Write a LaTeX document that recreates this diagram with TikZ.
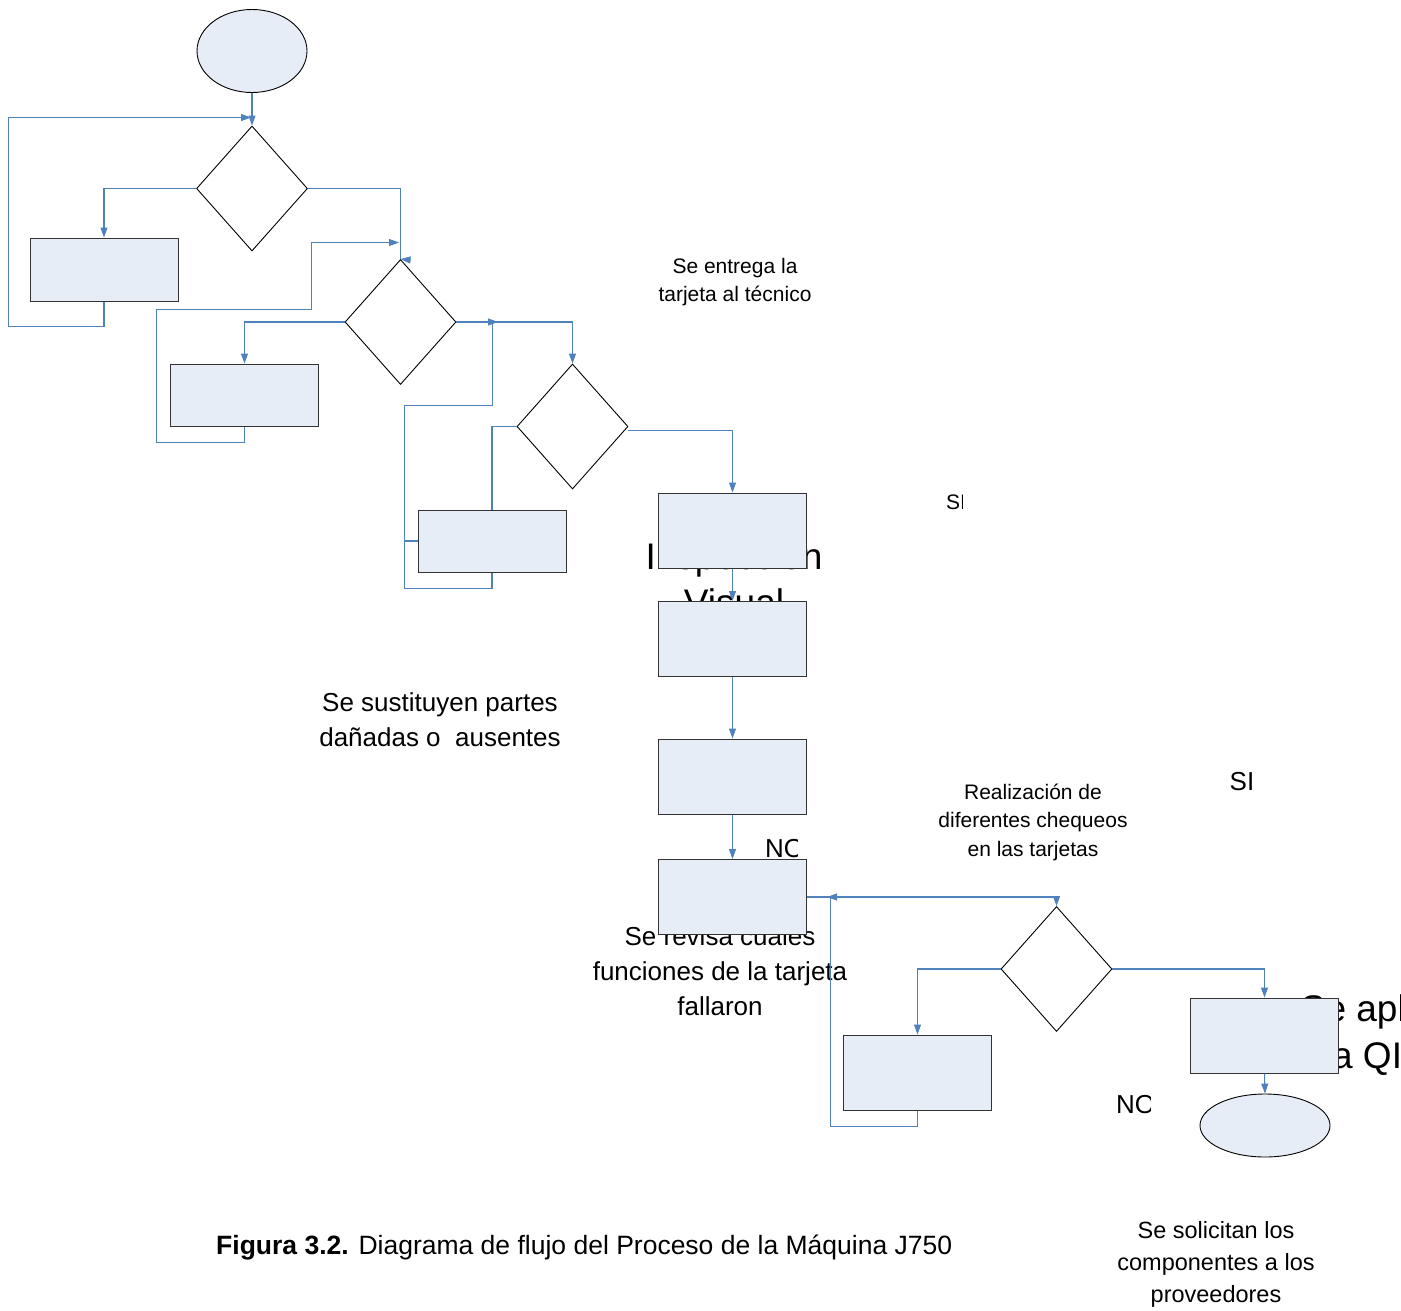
\documentclass[tikz,border=0pt]{standalone}
\usepackage{fontspec}
\setmainfont{Liberation Sans}
\usetikzlibrary{shapes.geometric,arrows.meta}
\definecolor{lnblue}{HTML}{4F81BD}
\definecolor{boxfill}{HTML}{E7EDF7}
\tikzset{
  box/.style={rectangle,draw=black!80,fill=boxfill,line width=1pt,minimum width=148pt,minimum height=75pt,inner sep=0pt},
  dec/.style={diamond,draw=black,line width=0.9pt,minimum width=111pt,minimum height=125pt,inner sep=0pt},
  oval/.style={ellipse,draw=black,fill=boxfill,line width=0.9pt,inner sep=0pt},
  conn/.style={draw=lnblue,line width=1.05pt,-{Triangle[length=10pt,width=7pt]}},
  plain/.style={draw=lnblue,line width=1.05pt},
  lbl/.style={align=center,inner sep=0pt,font=\fontsize{26}{35}\selectfont},
  lblb/.style={align=center,inner sep=0pt,font=\fontsize{23.5}{32}\selectfont},
  small/.style={align=center,inner sep=0pt,font=\fontsize{21}{28.5}\selectfont},
  big/.style={align=center,inner sep=0pt,font=\fontsize{37}{46.5}\selectfont},
}
\begin{document}
\begin{tikzpicture}[x=1pt,y=-1pt]
\useasboundingbox (0,0) rectangle (1401,1310);
% texts lying behind boxes
\node[big] (insp) at (734,579) {Inspección\\Visual};
\node[lbl] (revisa) at (720,971) {Se revisa cuales\\funciones de la tarjeta\\fallaron};
\node[big] (qi) at (1377,1035) {Se aplica\\la QI\hspace*{28pt}};
% shapes
\node[oval,minimum width=110pt,minimum height=83pt] (start) at (252,51) {};
\node[dec] (d1) at (252,188.5) {};
\node[box,minimum height=63pt] (b1) at (104,269.5) {};
\node[dec] (d2) at (400.5,322) {};
\node[box,minimum height=62pt] (b2) at (244.5,395) {};
\node[dec] (d3) at (572.5,426.5) {};
\node[box,minimum height=62pt] (b3) at (492,541) {};
\node[box] (b4) at (732.5,530.5) {};
\node[box] (b5) at (732.5,639) {};
\node[box] (b6) at (732.5,776.5) {};
\node[box] (b7) at (732.5,897) {};
\node[dec] (d4) at (1056.5,969) {};
\node[box] (b8) at (917.5,1072.5) {};
\node[box] (b9) at (1264.5,1035.5) {};
\node[oval,minimum width=130pt,minimum height=63pt] (end) at (1265,1125.5) {};
% junction coordinates
\coordinate (j1) at (251,117.5);
\coordinate (j2) at (399,242.5);
\coordinate (d2ne) at (411,260);
\coordinate (j3) at (498,322);
\coordinate (b3w) at (404.5,541);
\coordinate (j4) at (827,897);
% connectors
\draw[conn] (start.south) -- (d1.north);
\draw[conn] (d1.west) -| (b1.north);
\draw[conn] (b1.south) -- (104,326.5) -- (8.5,326.5) -- (8.5,117.5) -- (j1);
\draw[plain] (d1.east) -| (d2.north);
\draw[conn] (d2ne) -- (d2.north);
\draw[conn] (d2.west) -| (b2.north);
\draw[conn] (b2.south) -- (244.5,442.5) -- (156.5,442.5) -- (156.5,309.5) -- (311.5,309.5) -- (311.5,242.5) -- (j2);
\draw[conn] (d2.east) -| (d3.north);
\draw[plain] (d3.west) -| (b3.north);
\draw[conn] (b3.south) -- (492,588.5) -- (404.5,588.5) -- (404.5,405.5) -- (492.5,405.5) -- (492.5,322) -- (j3);
\draw[plain] (b3.west) -- (b3w);
\draw[conn] ([yshift=-4pt]d3.east) -| (b4.north);
\draw[conn] (b4.south) -- (b5.north);
\draw[conn] (b5.south) -- (b6.north);
\draw[conn] (b6.south) -- (b7.north);
\draw[conn] (b7.east) -| (d4.north);
\draw[conn] (d4.west) -| (b8.north);
\draw[conn] (b8.south) -- (917.5,1126.5) -- (830.5,1126.5) -- (830.5,897) -- (840,897) -- (j4);
\draw[conn] (d4.east) -| (b9.north);
\draw[conn] (b9.south) -- (end.north);
% other texts
\node[small] (entrega) at (735,282) {Se entrega la\\tarjeta al técnico};
\begin{scope}
\clip (930,480) rectangle (962.5,525);
\node[small] (si1) at (956,502) {SI};
\end{scope}
\node[lbl] (sustituyen) at (440,720) {Se sustituyen partes\\dañadas o \ ausentes};
\node[small] (realiz) at (1033,822) {Realización de\\diferentes chequeos\\en las tarjetas};
\node[lbl] (si2) at (1242,782) {SI};
\begin{scope}
\clip (750,830) rectangle (797,870);
\node[lbl] (no1) at (784.5,849) {NO};
\end{scope}
\begin{scope}
\clip (1100,1085) rectangle (1150,1125);
\node[lbl] (no2) at (1135.5,1105) {NO};
\end{scope}
\node[lblb] (solicitan) at (1216,1264) {Se solicitan los\\componentes a los\\proveedores};
\node[anchor=west,inner sep=0pt,font=\fontsize{26.5}{35}\selectfont] (caption) at (216,1248) {\textbf{Figura 3.2.} Diagrama de flujo del Proceso de la Máquina J750};
\end{tikzpicture}
\end{document}
